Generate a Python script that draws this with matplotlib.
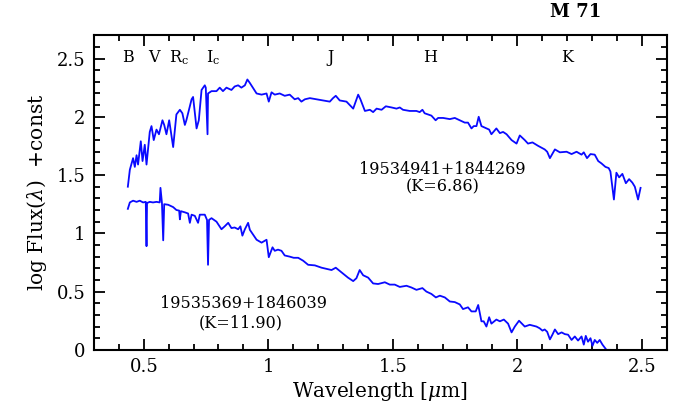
import matplotlib
matplotlib.use("Agg")
import matplotlib.pyplot as plt
from matplotlib.ticker import MultipleLocator

plt.rcParams["font.family"] = ["DejaVu Serif"]
plt.rcParams["mathtext.fontset"] = "dejavuserif"

# upper spectrum: 19534941+1844269 (K=6.86)
wl_bright = [0.436, 0.444, 0.457, 0.464, 0.471, 0.477, 0.488, 0.495, 0.504, 0.511,
             0.524, 0.531, 0.540, 0.551, 0.561, 0.575, 0.582, 0.591, 0.602, 0.618,
             0.631, 0.645, 0.655, 0.665, 0.671, 0.692, 0.698, 0.712, 0.721, 0.732,
             0.745, 0.749, 0.756, 0.758, 0.772, 0.792, 0.805, 0.818, 0.832, 0.852,
             0.865, 0.879, 0.892, 0.906, 0.916, 0.926, 0.953, 0.973, 0.993, 1.002,
             1.013, 1.026, 1.046, 1.066, 1.086, 1.106, 1.120, 1.133, 1.147, 1.167,
             1.194, 1.220, 1.247, 1.260, 1.271, 1.287, 1.314, 1.341, 1.351, 1.361,
             1.370, 1.388, 1.408, 1.421, 1.435, 1.455, 1.472, 1.495, 1.515, 1.528,
             1.541, 1.568, 1.595, 1.608, 1.619, 1.628, 1.655, 1.672, 1.682, 1.702,
             1.729, 1.749, 1.769, 1.789, 1.802, 1.816, 1.825, 1.836, 1.845, 1.856,
             1.876, 1.887, 1.896, 1.916, 1.930, 1.943, 1.957, 1.977, 1.997, 2.010,
             2.030, 2.043, 2.061, 2.084, 2.110, 2.120, 2.131, 2.151, 2.171, 2.198,
             2.218, 2.238, 2.258, 2.267, 2.280, 2.294, 2.311, 2.325, 2.338, 2.354,
             2.367, 2.374, 2.388, 2.398, 2.409, 2.422, 2.436, 2.449, 2.462, 2.472,
             2.485, 2.495]
flux_bright = [1.40, 1.545, 1.645, 1.57, 1.67, 1.59, 1.79, 1.62, 1.76, 1.59,
               1.87, 1.92, 1.80, 1.89, 1.85, 1.97, 1.93, 1.85, 1.97, 1.74,
               2.02, 2.06, 2.03, 1.93, 1.97, 2.15, 2.17, 1.90, 1.97, 2.23,
               2.27, 2.25, 1.85, 2.20, 2.22, 2.22, 2.25, 2.22, 2.25, 2.23,
               2.26, 2.27, 2.25, 2.27, 2.32, 2.29, 2.20, 2.19, 2.20, 2.13,
               2.21, 2.19, 2.20, 2.18, 2.19, 2.15, 2.16, 2.13, 2.15, 2.16,
               2.15, 2.14, 2.13, 2.16, 2.18, 2.14, 2.13, 2.07, 2.13, 2.19,
               2.15, 2.05, 2.06, 2.04, 2.07, 2.06, 2.09, 2.08, 2.07, 2.08,
               2.06, 2.05, 2.05, 2.04, 2.06, 2.03, 2.01, 1.97, 1.99, 1.99,
               1.98, 1.99, 1.97, 1.95, 1.95, 1.90, 1.92, 1.92, 2.00, 1.92,
               1.90, 1.89, 1.85, 1.90, 1.86, 1.87, 1.85, 1.80, 1.77, 1.84,
               1.80, 1.77, 1.78, 1.75, 1.72, 1.70, 1.645, 1.72, 1.695, 1.70,
               1.68, 1.70, 1.675, 1.695, 1.645, 1.68, 1.675, 1.62, 1.60, 1.57,
               1.56, 1.53, 1.29, 1.52, 1.48, 1.51, 1.43, 1.465, 1.435, 1.40,
               1.29, 1.39]

# lower spectrum: 19535369+1846039 (K=11.90)
wl_faint = [0.436, 0.444, 0.457, 0.471, 0.484, 0.497, 0.508, 0.511, 0.513, 0.524,
            0.537, 0.551, 0.564, 0.567, 0.573, 0.578, 0.582, 0.598, 0.618, 0.631,
            0.642, 0.645, 0.649, 0.665, 0.678, 0.685, 0.692, 0.705, 0.718, 0.725,
            0.745, 0.754, 0.758, 0.762, 0.772, 0.792, 0.812, 0.825, 0.839, 0.852,
            0.865, 0.879, 0.888, 0.896, 0.906, 0.919, 0.926, 0.953, 0.973, 0.993,
            1.002, 1.017, 1.026, 1.039, 1.053, 1.066, 1.086, 1.102, 1.120, 1.140,
            1.160, 1.187, 1.214, 1.234, 1.254, 1.271, 1.294, 1.320, 1.341, 1.354,
            1.367, 1.381, 1.401, 1.421, 1.441, 1.468, 1.488, 1.508, 1.528, 1.555,
            1.575, 1.595, 1.619, 1.635, 1.655, 1.673, 1.689, 1.709, 1.729, 1.749,
            1.769, 1.782, 1.802, 1.816, 1.833, 1.843, 1.856, 1.865, 1.876, 1.887,
            1.896, 1.916, 1.930, 1.946, 1.963, 1.977, 1.990, 2.007, 2.030, 2.050,
            2.077, 2.090, 2.101, 2.110, 2.120, 2.131, 2.141, 2.151, 2.164, 2.178,
            2.191, 2.204, 2.218, 2.231, 2.244, 2.258, 2.267, 2.275, 2.284, 2.294,
            2.302, 2.311, 2.321, 2.331, 2.342, 2.358, 2.372]
flux_faint = [1.21, 1.265, 1.28, 1.27, 1.28, 1.265, 1.27, 0.89, 1.26, 1.27,
              1.265, 1.27, 1.265, 1.39, 1.26, 0.94, 1.25, 1.245, 1.225, 1.20,
              1.195, 1.12, 1.19, 1.18, 1.17, 1.09, 1.16, 1.15, 1.09, 1.16,
              1.16, 1.115, 0.73, 1.115, 1.13, 1.10, 1.035, 1.06, 1.09, 1.045,
              1.05, 1.035, 1.06, 0.98, 1.035, 1.09, 1.03, 0.945, 0.92, 0.945,
              0.795, 0.88, 0.85, 0.86, 0.85, 0.81, 0.80, 0.79, 0.79, 0.765,
              0.73, 0.725, 0.705, 0.695, 0.685, 0.705, 0.665, 0.62, 0.59, 0.615,
              0.685, 0.64, 0.62, 0.57, 0.565, 0.58, 0.56, 0.56, 0.54, 0.55,
              0.535, 0.515, 0.53, 0.50, 0.48, 0.45, 0.465, 0.45, 0.415, 0.41,
              0.39, 0.35, 0.365, 0.33, 0.33, 0.385, 0.245, 0.245, 0.20, 0.28,
              0.225, 0.26, 0.245, 0.26, 0.225, 0.15, 0.20, 0.25, 0.20, 0.215,
              0.20, 0.185, 0.165, 0.175, 0.155, 0.09, 0.13, 0.175, 0.135, 0.15,
              0.135, 0.13, 0.085, 0.115, 0.08, 0.115, 0.045, 0.12, 0.07, 0.10,
              0.035, 0.085, 0.06, 0.085, 0.045, 0.0, 0.0]

band_names = ["B", "V", r"R$_{\rm c}$", r"I$_{\rm c}$", "J", "H", "K"]
band_wl = [0.436, 0.54, 0.64, 0.78, 1.25, 1.65, 2.2]

fig = plt.figure(figsize=(6.81, 4.19), dpi=100)
ax = fig.add_axes([0.138, 0.165, 0.841, 0.751])

ax.plot(wl_bright, flux_bright, color="#0a0aff", linewidth=1.3)
ax.plot(wl_faint, flux_faint, color="#0a0aff", linewidth=1.3)

ax.set_xlim(0.3, 2.6)
ax.set_ylim(0, 2.7)
ax.xaxis.set_major_locator(MultipleLocator(0.5))
ax.xaxis.set_minor_locator(MultipleLocator(0.1))
ax.yaxis.set_major_locator(MultipleLocator(0.5))
ax.yaxis.set_minor_locator(MultipleLocator(0.1))
ax.xaxis.set_major_formatter(matplotlib.ticker.FuncFormatter(lambda v, p: f"{v:g}"))
ax.yaxis.set_major_formatter(matplotlib.ticker.FuncFormatter(lambda v, p: f"{v:g}"))
ax.tick_params(which="both", direction="in", top=True, right=True, width=1.3,
               labelsize=13)
ax.tick_params(which="major", length=8, pad=6)
ax.tick_params(which="minor", length=4)
for s in ax.spines.values():
    s.set_linewidth(1.5)

ax.set_xlabel(r"Wavelength [$\mu$m]", fontsize=14.5, labelpad=3)
ax.set_ylabel(r"log Flux($\lambda$)  +const", fontsize=14.5, labelpad=6)

for name, w in zip(band_names, band_wl):
    ax.text(w, 2.51, name, ha="center", va="center", fontsize=11.5)

ax.text(1.70, 1.545, "19534941+1844269", ha="center", va="center", fontsize=11.5)
ax.text(1.70, 1.40, "(K=6.86)", ha="center", va="center", fontsize=11.5)
ax.text(0.90, 0.395, "19535369+1846039", ha="center", va="center", fontsize=11.5)
ax.text(0.89, 0.235, "(K=11.90)", ha="center", va="center", fontsize=11.5)

ax.text(2.235, 2.9, "M 71", ha="center", va="center", fontsize=13,
        fontweight="bold", clip_on=False)

fig.savefig("out.png", dpi=100)
